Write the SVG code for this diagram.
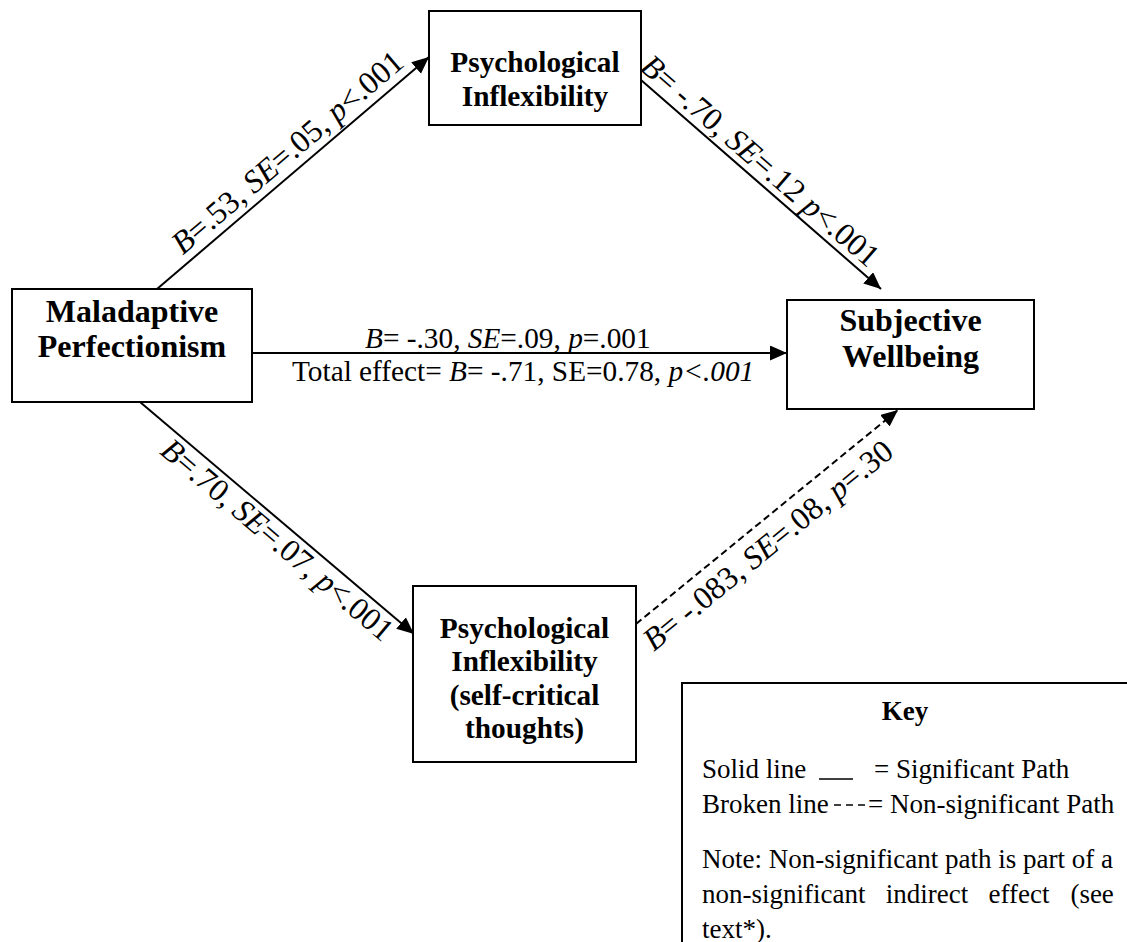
<svg xmlns="http://www.w3.org/2000/svg" width="1127" height="942" viewBox="0 0 1127 942">
<style>
.box{fill:#fff;stroke:#000;stroke-width:2}
.nt{font-family:"Liberation Serif","Times New Roman",serif;font-weight:bold;text-anchor:middle;fill:#000}
.lb{font-family:"Liberation Serif","Times New Roman",serif;fill:#000}
.edge{stroke:#000;stroke-width:2;fill:none}
.dash{stroke-dasharray:7,4}
.i{font-style:italic}
</style>
<defs>
<marker id="ah" markerUnits="userSpaceOnUse" markerWidth="18" markerHeight="16" refX="17" refY="7.5" orient="auto">
<path d="M0,0 L17,7.5 L0,15 z" fill="#000"/>
</marker>
</defs>
<rect width="1127" height="942" fill="#fff"/>
<g id="connectors">
<line class="edge" x1="157" y1="289" x2="429" y2="57" marker-end="url(#ah)"/>
<line class="edge" x1="641" y1="80" x2="881" y2="289" marker-end="url(#ah)"/>
<line class="edge" x1="253" y1="353" x2="787" y2="353" marker-end="url(#ah)"/>
<line class="edge" x1="140" y1="402" x2="414" y2="634" marker-end="url(#ah)"/>
<line class="edge dash" x1="636" y1="624" x2="898" y2="410" marker-end="url(#ah)"/>
<text class="lb" font-size="32" text-anchor="middle" transform="translate(294.3,160.2) rotate(-40.5)"><tspan class="i">B</tspan>=.53, <tspan class="i">SE</tspan>=.05, <tspan class="i">p</tspan>&lt;.001</text>
<text class="lb" font-size="32" text-anchor="middle" transform="translate(753.4,168.7) rotate(41)"><tspan class="i">B</tspan>= -.70, <tspan class="i">SE</tspan>=.12 <tspan class="i">p</tspan>&lt;.001</text>
<text class="lb" font-size="32" text-anchor="middle" transform="translate(270.6,547.9) rotate(40.3)"><tspan class="i">B</tspan>=.70, <tspan class="i">SE</tspan>=.07, <tspan class="i">p</tspan>&lt;.001</text>
<text class="lb" font-size="32" text-anchor="middle" transform="translate(774.5,553.4) rotate(-39.2)"><tspan class="i">B</tspan>= -.083, <tspan class="i">SE</tspan>=.08, <tspan class="i">p</tspan>=.30</text>
<text class="lb" font-size="29.3" x="365" y="348"><tspan class="i">B</tspan>= -.30, <tspan class="i">SE</tspan>=.09, <tspan class="i">p</tspan>=.001</text>
<text class="lb" font-size="29.3" x="292" y="381">Total effect= <tspan class="i">B</tspan>= -.71, SE=0.78, <tspan class="i">p&lt;.001</tspan></text>
</g>
<g id="maladaptive">
<rect class="box" x="12" y="289" width="240" height="113"/>
<text class="nt" font-size="32" x="132" y="322">Maladaptive</text>
<text class="nt" font-size="32" x="132" y="357">Perfectionism</text>
</g>
<g id="psych-inflex">
<rect class="box" x="429" y="11" width="212" height="114"/>
<text class="nt" font-size="29.3" x="535" y="72">Psychological</text>
<text class="nt" font-size="29.3" x="535" y="106">Inflexibility</text>
</g>
<g id="wellbeing">
<rect class="box" x="787" y="300" width="247" height="109"/>
<text class="nt" font-size="32" x="910.5" y="331">Subjective</text>
<text class="nt" font-size="32" x="910.5" y="367">Wellbeing</text>
</g>
<g id="psych-selfcrit">
<rect class="box" x="413" y="586" width="223" height="176"/>
<text class="nt" font-size="29.3" x="524.5" y="637.5">Psychological</text>
<text class="nt" font-size="29.3" x="524.5" y="671">Inflexibility</text>
<text class="nt" font-size="29.3" x="524.5" y="704.5">(self-critical</text>
<text class="nt" font-size="29.3" x="524.5" y="738">thoughts)</text>
</g>
<g id="key">
<path d="M682,942 V683 H1127" fill="none" stroke="#000" stroke-width="2"/>
<text class="nt" font-size="27" x="905" y="720">Key</text>
<text class="lb" font-size="27" x="702" y="778">Solid line</text>
<line x1="819" y1="779" x2="853" y2="779" stroke="#000" stroke-width="1.6"/>
<text class="lb" font-size="27" x="874" y="778">= Significant Path</text>
<text class="lb" font-size="27" x="702" y="813">Broken line</text>
<line x1="834" y1="805" x2="866" y2="805" stroke="#000" stroke-width="1.6" stroke-dasharray="7,5"/>
<text class="lb" font-size="27" x="868" y="813">= Non-significant Path</text>
<text class="lb" font-size="27" x="702" y="868">Note: Non-significant path is part of a</text>
<text class="lb" font-size="27" y="903"><tspan x="702">non-significant</tspan><tspan x="885.8">indirect</tspan><tspan x="988.6">effect</tspan><tspan x="1070.4">(see</tspan></text>
<text class="lb" font-size="27" x="702" y="938">text*).</text>
</g>
</svg>
